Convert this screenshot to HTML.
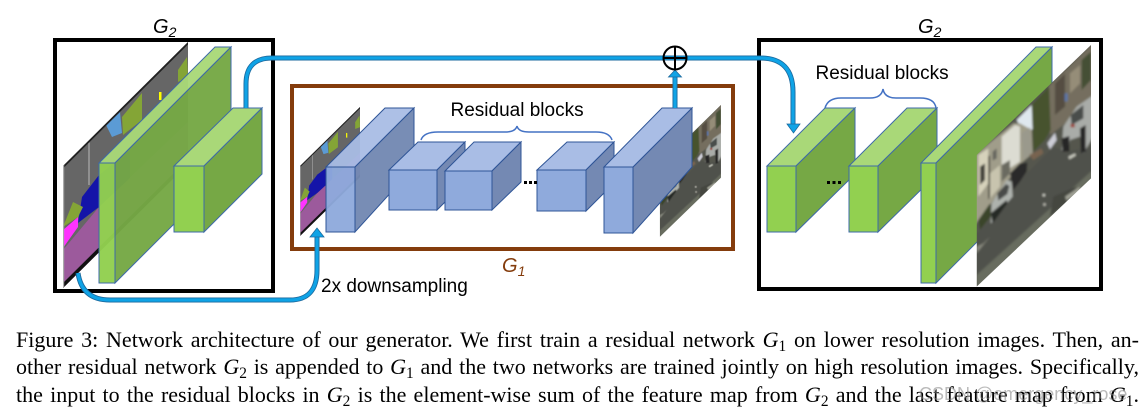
<!DOCTYPE html>
<html><head><meta charset="utf-8">
<style>
html,body{margin:0;padding:0;background:#fff;width:1146px;height:410px;overflow:hidden}
svg{position:absolute;left:0;top:0}
.l{position:absolute;left:16px;width:1123px;font:22px/24px "Liberation Serif",serif;color:#000;text-align:justify;text-align-last:justify;white-space:nowrap}
.l i{font-style:italic}
.l sub{font-size:15.4px;line-height:0;vertical-align:-4px}
</style></head><body>
<svg width="1146" height="410" viewBox="0 0 1146 410" font-family="'Liberation Sans',sans-serif">
<defs>
<clipPath id="cL"><polygon points="188,42 63,166 63,288 188,164"/></clipPath>
<clipPath id="cR"><polygon points="363,15 20,345 20,740 363,415"/></clipPath>
<filter id="b"><feGaussianBlur stdDeviation="3"/></filter>
<g id="seg"><g clip-path="url(#cL)">
<rect x="60" y="40" width="130" height="250" fill="#666"/>
<polygon points="63,250 99,207 190,120 190,166 63,290" fill="#9c5a9c"/>
<polygon points="63,230 78,217 78,227 63,248" fill="#ff33ff"/>
<polygon points="78,223 82,197 99,175 130,150 130,178 99,207" fill="#1414a8"/>
<polygon points="63,227 73,202 83,207 78,217" fill="#84a536"/>
<polygon points="106,125 120,112 122,133 112,137" fill="#5b9bd5"/>
<polygon points="122,117 142,93 142,120 123,135" fill="#84a536"/>
<rect x="159" y="92" width="2.500" height="8" fill="#ffff00"/>
<polygon points="178,70 187,57 188,77 178,82" fill="#84a536"/>
<rect x="88.500" y="140" width="1" height="45" fill="#bbb"/>
<polygon points="188,44.500 63,168.500 63,160 188,36" fill="#222"/>
<polygon points="63,283 188,159 188,170 63,294" fill="#111"/>
<rect x="63" y="160" width="1.200" height="130" fill="#aaa"/>
</g></g>
<g id="pho"><g transform="translate(970 40) scale(.33333)" clip-path="url(#cR)"><g filter="url(#b)">
<rect x="10" y="5" width="360" height="745" fill="#55564e"/>
<polygon points="235,140 370,10 370,175 300,240 240,285" fill="#756e5e"/>
<polygon points="255,130 285,100 285,200 255,225" fill="#544e43"/>
<polygon points="335,60 363,35 363,120 335,150" fill="#444f34"/>
<polygon points="300,100 330,75 330,130 300,160" fill="#958d78"/>
<polygon points="140,240 190,190 190,265 165,285" fill="#dfe8ee"/>
<polygon points="185,195 237,140 242,270 225,300 190,335" fill="#46532f"/>
<polygon points="10,350 130,250 150,250 185,270 188,340 150,372 60,495 10,560" fill="#a09d8a"/>
<polygon points="95,290 135,255 150,260 150,365 95,400" fill="#dcdcd2"/>
<polygon points="25,345 55,325 55,430 25,470" fill="#d6d2bb"/>
<polygon points="55,350 60,345 60,470 55,480" fill="#35342e"/>
<polygon points="30,380 45,370 45,420 30,435" fill="#45443c"/>
<polygon points="68,335 80,325 80,355 68,362" fill="#66665e"/>
<polygon points="60,400 90,375 90,440 60,475" fill="#c8c4ae"/>
<polygon points="95,375 120,360 120,400 95,425" fill="#6a6a60"/>
<polygon points="155,280 180,262 185,340 160,360" fill="#9a998c"/>
<polygon points="20,580 60,540 170,400 250,320 290,335 370,320 370,420 20,750" fill="#50514b"/>
<polygon points="20,750 20,705 370,388 370,420" fill="#676c5f"/>
<polygon points="250,470 320,440 300,480 240,530" fill="#454641"/>
<polygon points="20,640 60,590 40,610 20,620" fill="#85867b"/>
<polygon points="25,540 60,490 62,530 30,570" fill="#3a452a"/>
<polygon points="120,400 150,370 172,368 170,395 150,425 130,450" fill="#2a2b29"/>
<polygon points="62,550 65,490 110,420 125,425 128,470 110,490 70,545" fill="#aeb2ad"/>
<polygon points="82,460 108,432 118,438 112,462 85,482" fill="#484b49"/>
<polygon points="62,520 110,480 112,490 68,550" fill="#282927"/>
<polygon points="178,345 215,325 220,340 190,360" fill="#78644f"/>
<polygon points="232,310 255,278 260,300 240,328" fill="#cdced7"/>
<polygon points="275,330 280,260 320,200 370,165 370,290 340,340 330,290 300,300 295,335" fill="#a9aca8"/>
<polygon points="302,225 340,195 340,235 305,255" fill="#4a4d4b"/>
<polygon points="275,295 298,288 298,335 278,335" fill="#282826"/>
<polygon points="330,265 347,255 347,335 333,340" fill="#282826"/>
<rect x="302" y="252" width="12" height="10" fill="#9c463e"/>
<rect x="218" y="462" width="7" height="7" fill="#d6d6cc"/>
<rect x="220" y="490" width="7" height="7" fill="#c2c2b8"/>
<polygon points="295,350 315,340 318,346 298,358" fill="#c9cabf"/>
<polygon points="285,470 330,440 330,452 290,482" fill="#a0a296"/>
<rect x="284" y="160" width="9" height="24" fill="#5d77a8"/>
</g></g></g>
</defs>

<!-- left G2 -->
<use href="#seg"/>
<g stroke="#3e6aa8" stroke-width="1">
<polygon points="99,163 215,47 231,47 115,163" fill="#a9d878" fill-opacity=".96"/>
<polygon points="115,163 231,47 231,167 115,283" fill="#76a845" fill-opacity=".97"/>
<rect x="99" y="163" width="16" height="120" fill="#92d050" fill-opacity=".97"/>
<polygon points="174,166 233,108 262,108 204,166" fill="#a9d878"/>
<polygon points="204,166 262,108 262,174 204,232" fill="#76a845"/>
<rect x="174" y="166" width="30" height="66" fill="#92d050"/>
</g>
<rect x="55" y="40" width="218" height="251" fill="none" stroke="#000" stroke-width="4"/>

<!-- right G2 -->
<g stroke="#3e6aa8" stroke-width="1">
<polygon points="767,166 825,108 855,108 796,166" fill="#a9d878"/>
<polygon points="796,166 855,108 855,174 796,232" fill="#76a845"/>
<rect x="767" y="166" width="29" height="66" fill="#92d050"/>
<polygon points="849,166 907,108 937,108 878,166" fill="#a9d878"/>
<polygon points="878,166 937,108 937,174 878,232" fill="#76a845"/>
<rect x="849" y="166" width="29" height="66" fill="#92d050"/>
<polygon points="921,163 1036,47 1052,47 936,163" fill="#a9d878"/>
<polygon points="936,163 1052,47 1052,167 936,283" fill="#76a845"/>
<rect x="921" y="163" width="15" height="120" fill="#92d050"/>
</g>
<use href="#pho"/>
<rect x="759" y="40" width="342" height="249" fill="none" stroke="#000" stroke-width="4"/>
<rect x="827" y="181" width="3" height="3"/><rect x="832.500" y="181" width="3" height="3"/><rect x="838" y="181" width="3" height="3"/>

<!-- G1 -->
<rect x="292" y="86" width="441" height="163" fill="none" stroke="#843c0c" stroke-width="4"/>
<use href="#seg" transform="matrix(.48 .098 0 .574 269.76 64.5)"/>
<use href="#pho" transform="matrix(.535 0 0 .546 137.3 80.3)"/>
<g stroke="#2f5597" stroke-width="1">
<polygon points="326,167 385,108 414,108 355,167" fill="#a9bde5" fill-opacity=".95"/>
<polygon points="355,167 414,108 414,167 355,232" fill="#7489b3" fill-opacity=".97"/>
<rect x="326" y="167" width="29" height="65" fill="#8faadc" fill-opacity=".96"/>
<polygon points="389,170 418,142 465,142 437,170" fill="#a9bde5"/>
<polygon points="437,170 465,142 465,182 437,210" fill="#7489b3"/>
<rect x="389" y="170" width="48" height="40" fill="#8faadc"/>
<polygon points="445,171 474,142 521,142 492,171" fill="#a9bde5"/>
<polygon points="492,171 521,142 521,182 492,210" fill="#7489b3"/>
<rect x="445" y="171" width="47" height="39" fill="#8faadc"/>
<polygon points="537,170 567,142 614,142 586,170" fill="#a9bde5"/>
<polygon points="586,170 614,142 614,183 586,211" fill="#7489b3"/>
<rect x="537" y="170" width="49" height="41" fill="#8faadc"/>
<polygon points="633,167 692,108 692,167 633,233" fill="#7489b3"/>
<polygon points="604,167 662,108 692,108 633,167" fill="#a9bde5"/>
<rect x="604" y="167" width="29" height="66" fill="#8faadc"/>
</g>
<rect x="524" y="181" width="3" height="3"/><rect x="529" y="181" width="3" height="3"/><rect x="534" y="181" width="3" height="3"/>

<!-- braces -->
<g fill="none" stroke="#4472c4" stroke-width="1.500">
<path d="M421,140 C423,134 430,132 438,132 L505,132 C512,132 516,130 517,126 C518,130 522,132 529,132 L596,132 C604,132 610,134 612,140"/>
<path d="M825,108 C827,101 833,98 841,98 L870,98 C878,98 882,95 883,89 C884,95 888,98 896,98 L920,98 C929,98 935,101 936,108"/>
</g>

<!-- blue connectors -->
<g fill="none" stroke-linecap="butt">
<path d="M246,108 L246,84 Q246,58 272,58 L760,58 Q793,58 793,92 L793,125" stroke="#1d6a9e" stroke-width="5"/>
<path d="M246,108 L246,84 Q246,58 272,58 L760,58 Q793,58 793,92 L793,125" stroke="#0fa3e6" stroke-width="3.200"/>
<path d="M78,273 Q82,300 110,300 L290,300 Q317,300 317,270 L317,236" stroke="#1d6a9e" stroke-width="5"/>
<path d="M78,273 Q82,300 110,300 L290,300 Q317,300 317,270 L317,236" stroke="#0fa3e6" stroke-width="3.200"/>
<path d="M675,108 L675,76" stroke="#1d6a9e" stroke-width="5"/>
<path d="M675,108 L675,76" stroke="#0fa3e6" stroke-width="3.200"/>
</g>
<polygon points="787,124 800,124 793.500,133" fill="#0fa3e6" stroke="#1d6a9e" stroke-width=".8"/>
<polygon points="310,237 324,237 317,228" fill="#0fa3e6" stroke="#1d6a9e" stroke-width=".8"/>
<polygon points="668.500,77 681.500,77 675,70" fill="#0fa3e6" stroke="#1d6a9e" stroke-width=".8"/>

<!-- plus circle -->
<circle cx="675" cy="58" r="11.500" fill="none" stroke="#000" stroke-width="2"/>
<path d="M663.500,58H686.500M675,46.500V69.500" stroke="#000" stroke-width="2"/>

<!-- labels -->
<text x="153" y="33" font-size="20" font-style="italic">G<tspan font-size="14" dy="4">2</tspan></text>
<text x="918" y="33" font-size="20" font-style="italic">G<tspan font-size="14" dy="4">2</tspan></text>
<text x="502" y="272" font-size="20" font-style="italic" fill="#843c0c">G<tspan font-size="14" dy="4">1</tspan></text>
<text x="450.500" y="116" font-size="19">Residual blocks</text>
<text x="815.500" y="79" font-size="19">Residual blocks</text>
<text x="321" y="292" font-size="19">2x downsampling</text>
</svg>

<div class="l" style="top:328px">Figure 3: Network architecture of our generator. We first train a residual network <i>G</i><sub>1</sub> on lower resolution images. Then, an-</div>
<div class="l" style="top:355px">other residual network <i>G</i><sub>2</sub> is appended to <i>G</i><sub>1</sub> and the two networks are trained jointly on high resolution images. Specifically,</div>
<div class="l" style="top:383px">the input to the residual blocks in <i>G</i><sub>2</sub> is the element-wise sum of the feature map from <i>G</i><sub>2</sub> and the last feature map from <i>G</i><sub>1</sub>.</div>
<div style="position:absolute;left:919px;top:384px;font:18px/20px 'Liberation Sans',sans-serif;color:rgba(130,130,130,.55);white-space:nowrap">CSDN @emergency_rose</div>
</body></html>
